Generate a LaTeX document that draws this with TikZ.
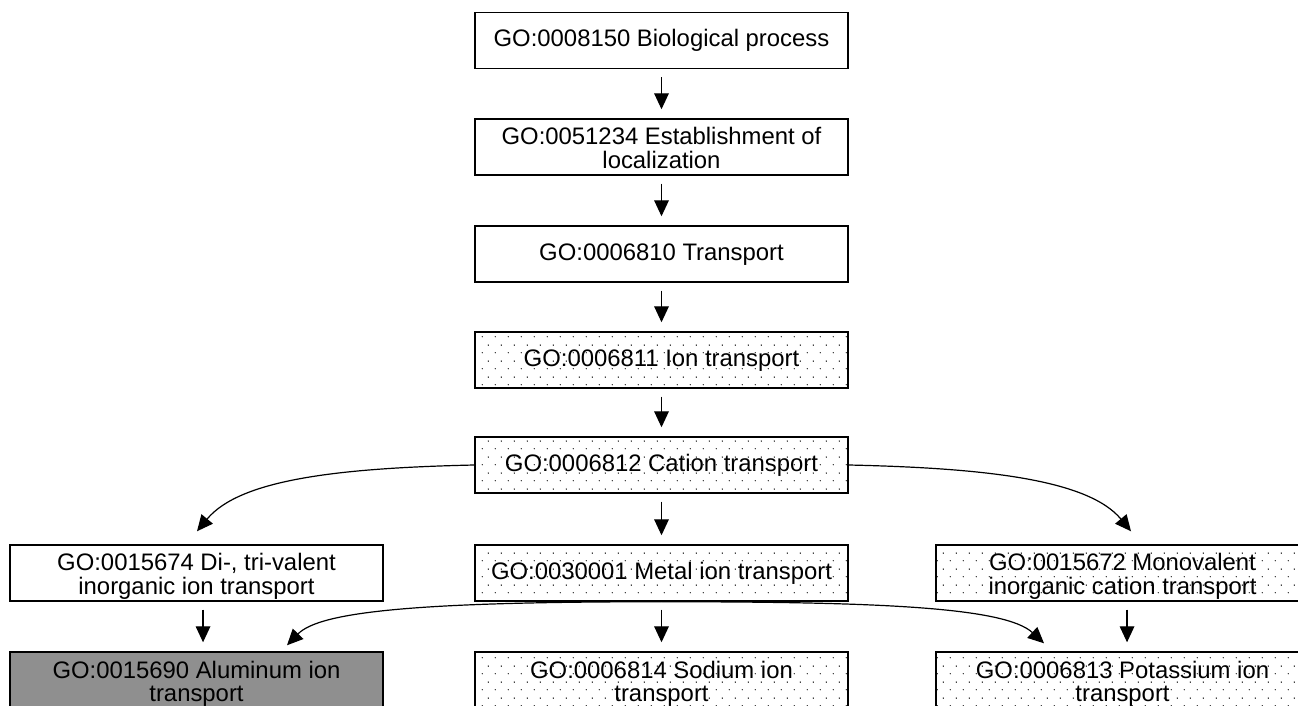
\documentclass[tikz,border=0pt]{standalone}
\usepackage{fontspec}
\setmainfont{Liberation Sans}
\usetikzlibrary{arrows.meta,patterns,calc}
\pgfdeclarepatternformonly{gdots}{\pgfqpoint{0pt}{0pt}}{\pgfqpoint{9.75pt}{12pt}}{\pgfqpoint{9.75pt}{12pt}}{%
  \pgfpathcircle{\pgfqpoint{1pt}{1pt}}{0.55pt}%
  \pgfpathcircle{\pgfqpoint{5.875pt}{7pt}}{0.55pt}%
  \pgfusepath{fill}}
\definecolor{alugray}{RGB}{143,143,143}
\begin{document}
\begin{tikzpicture}[x=0.75pt,y=-0.75pt,
  box/.style={draw, line width=1.1pt, minimum width=279.75pt, minimum height=42pt, inner sep=0pt},
  dotbox/.style={box, pattern=gdots, pattern color=black},
  grbox/.style={box, fill=alugray},
  txt/.style={font=\fontsize{17.9pt}{17.5pt}\selectfont, align=center, inner sep=0pt, anchor=base},
  arr/.style={-{Triangle[length=12pt,width=11pt]}, line width=0.9pt},
  varr/.style={arr, shorten <=6pt, shorten >=6.75pt}]
\fill[white] (0,0) rectangle (1298,706);
\useasboundingbox (0,0) rectangle (1298,706);
% boxes
\node[box] (b1) at (661.5,40.5) {};
\node[box] (b2) at (661.5,147) {};
\node[box] (b3) at (661.5,254) {};
\node[dotbox] (b4) at (661.5,360) {};
\node[dotbox] (b5) at (661.5,465) {};
\node[box] (di) at (196.5,573) {};
\node[dotbox] (metal) at (661.5,573) {};
\node[dotbox] (mono) at (1122.5,573) {};
\node[grbox] (alu) at (196.5,680) {};
\node[dotbox] (sod) at (661.5,680) {};
\node[dotbox] (pot) at (1122.5,680) {};
% texts (base anchor = last line)
\node[txt] (t1) at ($(b1.north)+(0,35)$) {GO:0008150 Biological process};
\node[txt] (t2) at ($(b2.north)+(0,50)$) {GO:0051234 Establishment of\\localization};
\node[txt] (t3) at ($(b3.north)+(0,35)$) {GO:0006810 Transport};
\node[txt] (t4) at ($(b4.north)+(0,35)$) {GO:0006811 Ion transport};
\node[txt] (t5) at ($(b5.north)+(0,35)$) {GO:0006812 Cation transport};
\node[txt] (tdi) at ($(di.north)+(0,50)$) {GO:0015674 Di-, tri-valent\\inorganic ion transport};
\node[txt] (tmetal) at ($(metal.north)+(0,35)$) {GO:0030001 Metal ion transport};
\node[txt] (tmono) at ($(mono.north)+(0,50)$) {GO:0015672 Monovalent\\inorganic cation transport};
\node[txt] (talu) at ($(alu.north)+(0,50.5)$) {GO:0015690 Aluminum ion\\transport};
\node[txt] (tsod) at ($(sod.north)+(0,50.5)$) {GO:0006814 Sodium ion\\transport};
\node[txt] (tpot) at ($(pot.north)+(0,50.5)$) {GO:0006813 Potassium ion\\transport};
% connectors
\draw[varr] (b1) -- (b2);
\draw[varr] (b2) -- (b3);
\draw[varr] (b3) -- (b4);
\draw[varr] (b4) -- (b5);
\draw[varr] (b5) -- (metal);
\draw[varr] (metal) -- (sod);
\draw[varr] ([xshift=4.9pt]di.south) -- ([xshift=4.9pt]alu.north);
\draw[varr] ([xshift=3.4pt]mono.south) -- ([xshift=3.4pt]pot.north);
\draw[arr] (b5.west) .. controls +(-135,3) and +(43,-52) .. ($(di.north)+(0.5,-13)$);
\draw[arr] (b5.east) .. controls +(135,3) and +(-43,-52) .. ($(mono.north)+(8.5,-13)$);
\draw[arr] (metal.south) .. controls +(-241.5,0) and +(33,-34) .. ($(alu.north)+(90.5,-6)$);
\draw[arr] (metal.south) .. controls +(218.5,0) and +(-39,-36) .. ($(pot.north)+(-78.5,-8)$);
\end{tikzpicture}
\end{document}
